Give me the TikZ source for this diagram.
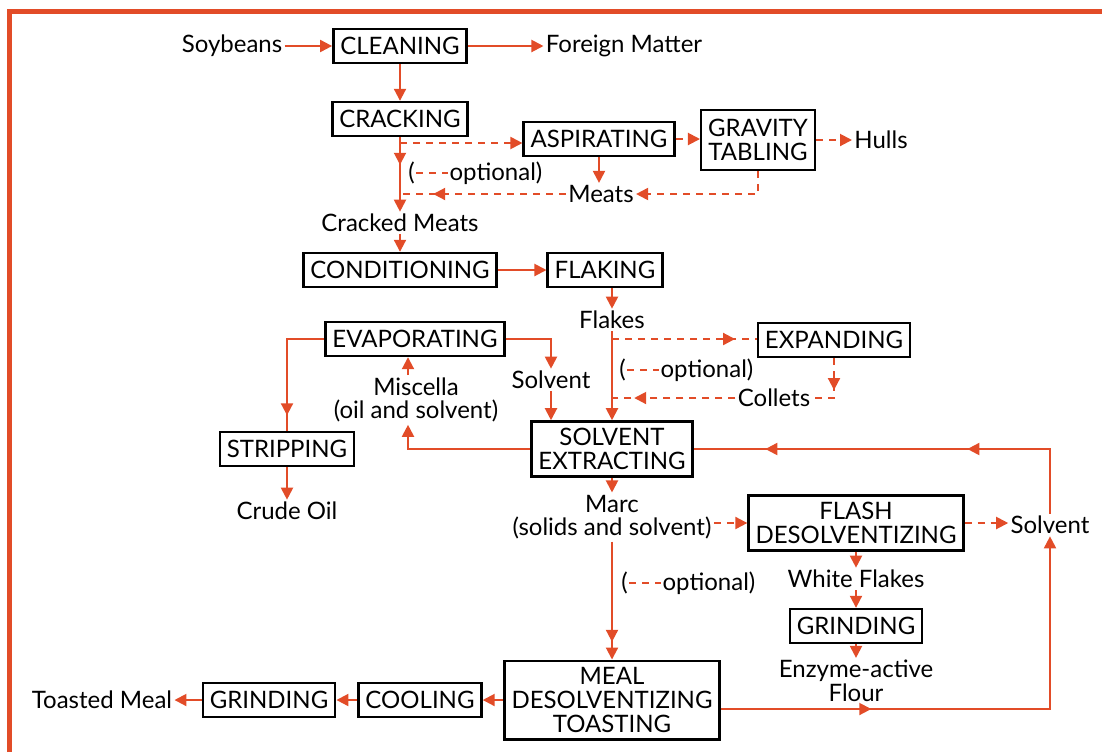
\documentclass[tikz,border=0pt]{standalone}
\usepackage{fontspec}
\setmainfont{Lato}
\usetikzlibrary{arrows.meta,positioning,decorations.markings}
\definecolor{flowred}{RGB}{226,76,40}

\begin{document}
\begin{tikzpicture}[
x=0.5pt, y=-0.5pt,
every node/.style={font=\fontsize{12}{11.8}\selectfont},
block/.style={draw=black, line width=1.2pt, align=center, inner xsep=3.5pt, inner ysep=3.5pt, minimum height=17pt},
lbl/.style={align=center, inner sep=1pt},
flowline/.style={draw=flowred, line width=1pt},
dashflow/.style={flowline, dash pattern=on 3.5pt off 3pt},
arrow/.style={flowline, -{Triangle[length=6pt,width=6pt]}},
darrow/.style={arrow, dash pattern=on 3.5pt off 3pt},
midarrow/.style={postaction={decorate, decoration={markings, mark=at position #1 with {\arrow[flowred]{Triangle[length=6pt,width=6pt]}}}}}
]
\useasboundingbox (0,0) rectangle (1102,752);
\draw[flowred, line width=2.5pt] (9,752) -- (9,11) -- (1102,11);

% preparation
\node[lbl] (soy) at (232,46) {Soybeans};
\node[block] (clean) at (400,46) {CLEANING};
\node[lbl] (foreign) at (624,46) {Foreign Matter};
\node[block] (crack) at (400,119) {CRACKING};
\node[block] (aspir) at (599,139) {ASPIRATING};
\node[block, minimum height=30pt] (gravity) at (758,140) {GRAVITY\\TABLING};
\node[lbl] (hulls) at (881,140) {Hulls};
\node[lbl] (meats) at (601,194) {Meats};
\node[lbl] (cmeats) at (400,223) {Cracked Meats};
\node[block] (cond) at (400,270) {CONDITIONING};
\node[block] (flaking) at (605,270) {FLAKING};
\node[lbl] (flakes) at (612,320) {Flakes};
\node[block] (expand) at (834,340) {EXPANDING};
\node[lbl] (collets) at (774,398) {Collets};

% extraction
\node[block] (evap) at (415,339) {EVAPORATING};
\node[lbl] (miscella) at (416,400) {Miscella\\(oil and solvent)};
\node[lbl] (solvA) at (551,380) {Solvent};
\node[block] (extract) at (612,449) {SOLVENT\\EXTRACTING};
\node[block] (strip) at (287,449) {STRIPPING};
\node[lbl] (crude) at (287,511) {Crude Oil};
\node[lbl] (marc) at (612,517) {Marc\\(solids and solvent)};
\node[block] (flash) at (856,523) {FLASH\\DESOLVENTIZING};
\node[lbl] (solvB) at (1050,525) {Solvent};
\node[lbl] (white) at (856,579) {White Flakes};
\node[block] (grindB) at (856,626) {GRINDING};
\node[lbl] (enzyme) at (856,681) {Enzyme-active\\Flour};

% meal line
\node[block] (meal) at (612,700) {MEAL\\DESOLVENTIZING\\TOASTING};
\node[block] (cool) at (420,700) {COOLING};
\node[block] (grindA) at (269,700) {GRINDING};
\node[lbl] (toasted) at (102,700) {Toasted Meal};

\coordinate (jcrack) at (400,143);
\coordinate (jmeats) at (400,194);
\coordinate (jflakes) at (612,339);
\coordinate (jcollets) at (612,398);

% optional legends
\foreach \nm/\px/\py in {optA/407/173, optB/618/370, optC/620/583}{
  \node[lbl, anchor=west, inner sep=0.5pt] (\nm-l) at (\px,\py) {(};
  \node[lbl, base right=16pt of \nm-l, inner sep=0.5pt] (\nm-r) {optional)};
  \draw[dashflow] (\nm-l.east) -- (\nm-l.east -| \nm-r.west);
}

\draw[arrow] (soy) -- (clean);
\draw[arrow] (clean) -- (foreign);
\draw[arrow] (clean) -- (crack);
\draw[arrow, midarrow=0.37] (crack) -- (cmeats);
\draw[darrow] (jcrack) -- (jcrack -| aspir.west);
\draw[darrow] (aspir.east) -- (aspir.east -| gravity.west);
\draw[darrow] (gravity) -- (hulls);
\draw[arrow] (aspir.south) -- (aspir.south |- meats.north);
\draw[darrow] (gravity.south) |- (meats.east);
\draw[dashflow, midarrow=0.8] (meats.west) -- (jmeats);
\draw[arrow] (cmeats) -- (cond);
\draw[arrow] (cond) -- (flaking);
\draw[arrow] (flakes.north |- flaking.south) -- (flakes.north);
\draw[arrow] (flakes) -- (extract);
\draw[dashflow, midarrow=0.85] (jflakes) -- (jflakes -| expand.west);
\draw[dashflow, midarrow=0.52] (expand.south) |- (collets.east);
\draw[dashflow, midarrow=0.82] (collets.west) -- (jcollets);

\draw[flowline, midarrow=0.88] (evap.west) -| (strip.north);
\draw[arrow] (strip) -- (crude);
\draw[arrow] (evap.east) -| (solvA.north);
\draw[arrow] (solvA.south) -- (solvA.south |- extract.north);
\draw[arrow] (extract.west) -| ([xshift=-4pt]miscella.south);
\draw[arrow] ([xshift=-4pt]miscella.north) -- ([xshift=-4pt]miscella.north |- evap.south);
\draw[arrow] (extract) -- (marc);
\draw[darrow] (marc.east |- flash.west) -- (flash.west);
\draw[darrow] (flash.east) -- (flash.east -| solvB.west);
\draw[flowline, midarrow=0.35, midarrow=0.83] (solvB.north) |- (extract.east);
\draw[arrow] (flash) -- (white);
\draw[arrow] (white) -- (grindB);
\draw[arrow] (grindB) -- (enzyme);

\draw[arrow, midarrow=0.85] (marc) -- (meal);
\draw[arrow, midarrow=0.3] ([yshift=-4.5pt]meal.east) -| (solvB.south);
\draw[arrow] (meal) -- (cool);
\draw[arrow] (cool) -- (grindA);
\draw[arrow] (grindA) -- (toasted);
\end{tikzpicture}
\end{document}
